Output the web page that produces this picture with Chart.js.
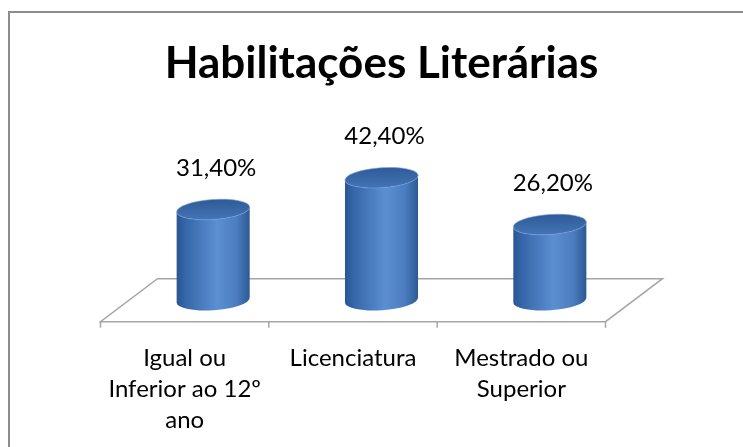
<!DOCTYPE html>
<html>
<head>
<meta charset="utf-8">
<script src="https://cdn.jsdelivr.net/npm/chart.js@4/dist/chart.umd.min.js"></script>
<style>
  html, body { margin: 0; padding: 0; background: #fff; }
  #wrap { width: 743px; height: 447px; position: relative; }
</style>
</head>
<body>
<div id="wrap"><canvas id="c" width="743" height="447"></canvas></div>
<script>
const chartTitle = 'Habilitações Literárias';
const categories = [['Igual ou', 'Inferior ao 12º', 'ano'], 'Licenciatura', ['Mestrado ou', 'Superior']];
const values = [31.4, 42.4, 26.2];
const valueLabels = ['31,40%', '42,40%', '26,20%'];

const FONT = 'Lato';
const DEPTH_X = 57, DEPTH_Y = 43; // floor depth (perspective)

const framePlugin = {
  id: 'frame',
  beforeDraw(chart) {
    const ctx = chart.ctx;
    ctx.save();
    ctx.fillStyle = '#ffffff';
    ctx.fillRect(0, 0, chart.width, chart.height);
    ctx.strokeStyle = '#8c8c8c';
    ctx.lineWidth = 2;
    ctx.strokeRect(9, 12, chart.width + 40, chart.height + 40);
    ctx.restore();
  },
  beforeDatasetsDraw(chart) {
    const ctx = chart.ctx;
    const xs = chart.scales.x, ys = chart.scales.y;
    const zero = ys.getPixelForValue(0);
    const step = xs.getPixelForValue(1) - xs.getPixelForValue(0);
    const left = xs.getPixelForValue(0) - step / 2;
    const right = xs.getPixelForValue(categories.length - 1) + step / 2;
    const fy = zero + DEPTH_Y / 2, by = zero - DEPTH_Y / 2;
    const fl = left - DEPTH_X / 2, fr = right - DEPTH_X / 2;
    const bl = left + DEPTH_X / 2, br = right + DEPTH_X / 2;
    ctx.save();
    ctx.strokeStyle = '#a6a6a6';
    ctx.lineWidth = 1.5;
    ctx.beginPath();
    ctx.moveTo(fl, fy); ctx.lineTo(fr, fy); ctx.lineTo(br, by); ctx.lineTo(bl, by); ctx.closePath();
    ctx.stroke();
    ctx.beginPath();
    for (let i = 0; i <= categories.length; i++) {
      const tx = fl + i * step;
      ctx.moveTo(tx, fy); ctx.lineTo(tx, fy + 6);
    }
    ctx.stroke();
    ctx.restore();
  },
  afterDatasetsDraw(chart) {
    const ctx = chart.ctx;
    const meta = chart.getDatasetMeta(0);
    const rot = -0.07;
    meta.data.forEach((el, i) => {
      const p = el.getProps(['x', 'y', 'base', 'width'], true);
      const cx = p.x, top = p.y, base = p.base;
      const rx = p.width / 2, ry = 10;
      const ex = rx * Math.cos(rot), ey = rx * Math.sin(rot);
      ctx.save();
      const g = ctx.createLinearGradient(cx - rx, 0, cx + rx, 0);
      g.addColorStop(0, '#2a5690');
      g.addColorStop(0.12, '#3566a8');
      g.addColorStop(0.55, '#5b8fd2');
      g.addColorStop(0.82, '#4b7dc0');
      g.addColorStop(1, '#2c5993');
      ctx.fillStyle = g;
      ctx.beginPath();
      ctx.moveTo(cx - ex, top - ey);
      ctx.lineTo(cx - ex, base - ey);
      ctx.ellipse(cx, base, rx, ry, rot, Math.PI, 0, true);
      ctx.lineTo(cx + ex, top + ey);
      ctx.ellipse(cx, top, rx, ry, rot, 0, Math.PI, false);
      ctx.closePath();
      ctx.fill();
      const gt = ctx.createLinearGradient(0, top - ry, 0, top + ry);
      gt.addColorStop(0, '#2f5b97');
      gt.addColorStop(1, '#4374b6');
      ctx.fillStyle = gt;
      ctx.beginPath();
      ctx.ellipse(cx, top, rx, ry, rot, 0, Math.PI * 2);
      ctx.fill();
      ctx.strokeStyle = 'rgba(120,160,215,0.6)';
      ctx.lineWidth = 1;
      ctx.stroke();
      ctx.fillStyle = '#000';
      ctx.font = '24px ' + FONT;
      ctx.textAlign = 'center';
      ctx.textBaseline = 'middle';
      ctx.fillText(valueLabels[i], cx + 3, top - 41);
      ctx.restore();
    });
  }
};

new Chart(document.getElementById('c'), {
  type: 'bar',
  data: {
    labels: categories,
    datasets: [{
      data: values,
      backgroundColor: 'rgba(0,0,0,0)',
      borderWidth: 0,
      barPercentage: 0.435,
      categoryPercentage: 1
    }]
  },
  options: {
    responsive: false,
    animation: false,
    devicePixelRatio: 1,
    layout: { padding: { left: 129, right: 109, top: 0, bottom: 7.5 } },
    plugins: {
      legend: { display: false },
      tooltip: { enabled: false },
      title: {
        display: true,
        text: chartTitle,
        color: '#000',
        font: { family: FONT, size: 44, weight: 'bold', lineHeight: 1.2 },
        padding: { top: 37.6, bottom: 65.4 }
      }
    },
    scales: {
      x: {
        offset: true,
        grid: { display: false },
        border: { display: false },
        ticks: {
          color: '#000',
          font: { family: FONT, size: 24, lineHeight: '31px' },
          padding: 4,
          labelOffset: -DEPTH_X / 2,
          maxRotation: 0,
          autoSkip: false
        }
      },
      y: {
        display: false,
        min: -10.5,
        max: 50
      }
    }
  },
  plugins: [framePlugin]
});
</script>
</body>
</html>
